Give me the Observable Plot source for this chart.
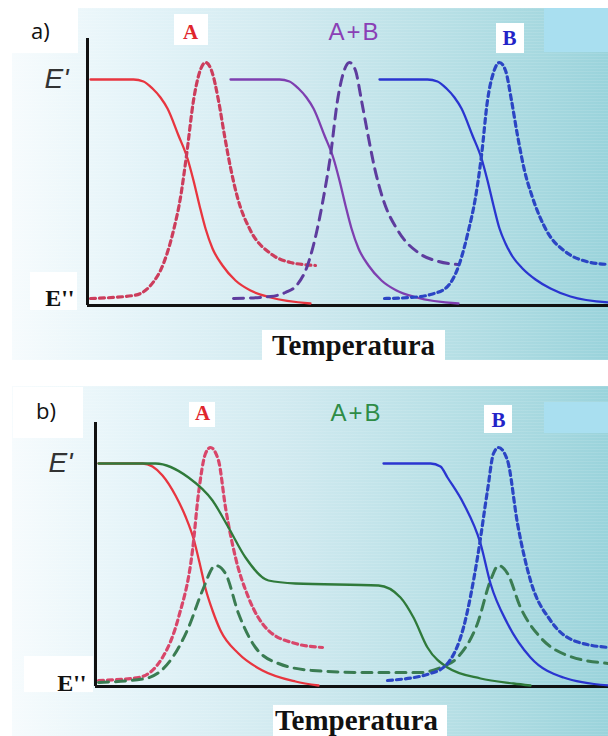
<!DOCTYPE html>
<html><head><meta charset="utf-8">
<script src="https://cdn.jsdelivr.net/npm/d3@7"></script>
<script src="https://cdn.jsdelivr.net/npm/@observablehq/plot@0.6"></script>
<style>
html,body{margin:0;padding:0;background:#fff;}
#page{position:relative;width:608px;height:736px;overflow:hidden;background:#fff;}
.bg{position:absolute;left:12px;width:596px;
  background:
   repeating-linear-gradient(180deg, rgba(255,255,255,0.10) 0px, rgba(255,255,255,0.10) 1px, rgba(255,255,255,0) 1px, rgba(255,255,255,0) 3px),
   linear-gradient(90deg,#f6fbfd 0%,#e3f3f8 22%,#cfe9ef 48%,#b6dfe5 74%,#9ad3db 100%);}
.hi{position:absolute;background:#a9dff0;}
.box{position:absolute;background:#fff;}
.tag{position:absolute;font-family:"Open Sans",sans-serif;font-size:22px;color:#111;line-height:1;}
</style></head>
<body><div id="page">
  <div class="bg" style="top:8px;height:352px"></div>
  <div class="bg" style="top:386px;height:350px"></div>
  <div class="hi" style="left:544px;top:8px;width:64px;height:44px"></div>
  <div class="hi" style="left:544px;top:402px;width:64px;height:31px"></div>
  <div class="box" style="left:10px;top:8px;width:68px;height:45px"></div>
  <div class="box" style="left:30px;top:272px;width:47px;height:38px"></div>
  <div class="box" style="left:174px;top:14px;width:34px;height:31px"></div>
  <div class="box" style="left:496px;top:23px;width:28px;height:30px"></div>
  <div class="box" style="left:262px;top:330px;width:183px;height:30px"></div>
  <div class="box" style="left:13px;top:387px;width:70px;height:51px"></div>
  <div class="box" style="left:24px;top:656px;width:69px;height:36px"></div>
  <div class="box" style="left:189px;top:402px;width:26px;height:25px"></div>
  <div class="box" style="left:484px;top:405px;width:28px;height:28px"></div>
  <div class="box" style="left:273px;top:705px;width:174px;height:31px"></div>
  <div class="tag" style="left:31px;top:19px">a)</div>
  <div class="tag" style="left:36px;top:399px">b)</div>
</div>
<script>
// ---- data: [temperature (arbitrary units), modulus (arbitrary units)] ----
// Panel a)
const redEpA = [[0.6,90.4],[9.2,90.4],[11.2,89.6],[13.0,86.8],[14.6,83.2],[16.0,78.8],[18.2,68.0],[20.0,58.8],[21.2,50.0],[22.4,40.0],[23.6,30.8],[25.0,22.8],[27.0,16.0],[29.6,10.0],[32.6,6.0],[36.6,3.2],[44.6,0.8]];
const redEppA = [[0.6,2.8],[9.2,4.0],[12.6,8.0],[15.2,16.8],[17.2,30.0],[18.6,43.2],[19.8,60.0],[21.2,82.0],[22.4,93.2],[23.6,97.2],[24.8,94.0],[26.2,82.0],[27.4,68.0],[28.6,55.2],[30.0,43.2],[32.6,30.0],[36.6,20.8],[40.6,17.2],[45.6,16.0]];
const purpleEpA = [[28.6,90.4],[38.4,90.4],[40.4,89.6],[42.2,86.8],[43.8,83.2],[45.2,78.8],[47.4,68.0],[49.2,58.8],[50.4,50.0],[51.6,40.0],[52.8,30.8],[54.2,22.8],[56.2,16.0],[58.8,10.0],[61.8,6.0],[65.8,3.2],[74.2,0.8]];
const purpleEppA = [[29.2,2.8],[36.6,3.6],[39.6,5.2],[41.8,8.0],[44.0,16.0],[45.8,29.2],[47.2,43.2],[48.6,60.0],[50.0,82.0],[51.2,93.2],[52.4,97.2],[53.6,94.0],[54.8,82.0],[56.0,69.2],[57.4,55.2],[59.0,43.2],[62.2,29.6],[66.4,20.8],[70.2,17.6],[74.0,16.4]];
const blueEpA = [[58.4,90.4],[68.0,90.4],[70.0,89.6],[71.8,86.8],[73.4,83.2],[74.8,78.8],[77.0,68.0],[78.8,58.8],[80.0,50.0],[81.2,40.0],[82.4,30.8],[83.6,24.8],[85.0,19.6],[87.0,14.8],[89.6,10.4],[92.6,6.8],[96.6,3.6],[104.2,1.2]];
const blueEppA = [[59.4,2.8],[64.6,3.2],[68.6,4.4],[71.8,7.2],[74.4,16.8],[76.2,30.0],[77.6,43.2],[78.8,60.0],[80.0,82.0],[81.2,93.2],[82.4,97.2],[83.6,94.0],[84.8,82.0],[86.0,68.0],[87.4,54.0],[89.0,43.2],[91.8,30.0],[95.8,21.2],[99.8,17.6],[104.2,16.4]];
// Panel b)
const redEpB = [[0.6,89.2],[9.4,89.2],[11.4,88.0],[13.4,84.4],[16.0,76.4],[18.0,68.0],[19.6,59.2],[20.8,49.6],[22.0,39.2],[23.4,30.4],[25.0,22.4],[28.6,13.2],[33.4,6.4],[40.0,2.0],[44.6,0.4]];
const redEppB = [[0.6,2.4],[8.6,3.6],[13.4,11.6],[16.6,27.6],[19.4,54.4],[20.6,77.2],[22.0,93.2],[23.0,95.6],[24.6,90.4],[26.0,71.6],[28.0,51.6],[30.6,35.6],[34.6,22.4],[40.0,17.2],[45.4,15.6]];
const greenEpB = [[0.6,89.2],[12.0,89.2],[18.6,83.6],[23.4,74.4],[26.6,63.6],[30.0,51.6],[34.6,42.4],[40.0,41.2],[56.6,40.4],[61.0,35.6],[63.6,27.6],[66.4,15.6],[70.4,7.6],[77.0,3.2],[83.6,1.2],[87.0,0.4]];
const greenEppB = [[0.6,1.6],[10.0,3.2],[15.4,11.6],[18.6,23.6],[21.4,38.4],[24.0,48.4],[26.0,45.2],[28.6,29.2],[32.0,15.6],[36.6,9.2],[43.4,6.4],[53.4,5.6],[65.0,5.6],[69.0,7.6],[72.4,11.6],[76.4,25.2],[79.0,42.4],[80.6,48.4],[82.4,45.2],[85.0,31.6],[89.0,19.6],[94.4,12.4],[102.6,9.2]];
const blueEpB = [[57.6,89.2],[67.0,89.2],[69.0,88.0],[70.4,83.6],[73.6,73.2],[77.0,57.2],[79.0,41.2],[82.4,25.2],[87.0,11.6],[93.6,3.6],[102.6,0.4]];
const blueEppB = [[58.4,2.4],[67.0,5.2],[70.4,9.2],[73.6,23.6],[76.4,51.6],[78.4,78.4],[79.6,93.2],[80.6,95.6],[82.4,90.4],[84.4,65.2],[87.0,42.4],[91.0,26.4],[95.6,18.4],[102.6,15.6]];

// label texts and their positions (data units)
const labelsA = [{t:"A", x:20.6, y:109.2}, {t:"A+B", x:53.4, y:109.2}, {t:"B", x:84.4, y:106.8}];
const labelsB = [{t:"A", x:21.4, y:109.2}, {t:"A+B", x:52.2, y:109.2}, {t:"B", x:80.6, y:106.4}];
const axisTitle = "Temperatura";

function panel(o) {
  const line = (data, stroke, w, dash) => Plot.line(data, {x: d => d[0], y: d => d[1], stroke, strokeWidth: w, strokeDasharray: dash, curve: "monotone-x"});
  const serifBold = {fontFamily: "Liberation Serif, serif", fontWeight: "bold"};
  const plot = Plot.plot({
    width: 608, height: o.height,
    marginLeft: o.ml, marginRight: 0, marginTop: o.mt, marginBottom: o.mb,
    style: {background: "transparent", overflow: "visible"},
    x: {domain: o.xd, axis: null},
    y: {domain: o.yd, axis: null},
    marks: [
      Plot.ruleX([0], {stroke: "#111", strokeWidth: 3}),
      Plot.ruleY([0], {stroke: "#111", strokeWidth: 3}),
      ...o.series.map(s => line(s.data, s.stroke, s.w, s.dash)),
      Plot.text(["E'"], {x: 0, y: o.epY, dx: o.epDx, textAnchor: "end", fontFamily: "Liberation Sans, Arial, sans-serif", fontStyle: "italic", fontSize: 28, fill: "#333"}),
      Plot.text(["E''"], {x: 0, y: o.eppY, dx: o.eppDx, textAnchor: "end", ...serifBold, fontSize: 24, fill: "#111"}),
      Plot.text([o.labels[0]], {x: "x", y: "y", text: "t", ...serifBold, fontSize: 21, fill: "#e0262c"}),
      Plot.text([o.labels[1]], {x: "x", y: "y", text: "t", fontFamily: "Liberation Sans, Arial, sans-serif", fontSize: 24, fill: o.abColor}),
      Plot.text([o.labels[2]], {x: "x", y: "y", text: "t", ...serifBold, fontSize: 21, fill: "#2323c8"}),
      Plot.text([axisTitle], {x: o.tX, y: 0, dy: o.tDy, ...serifBold, fontSize: 29, fill: "#111"})
    ]
  });
  plot.style.position = "absolute";
  plot.style.left = "0px";
  plot.style.top = o.top + "px";
  d3.select(plot).selectAll("text").filter(function () { return this.textContent === "A+B"; }).style("letter-spacing", "2px");
  return plot;
}

const page = document.getElementById("page");
page.appendChild(panel({
  top: 0, height: 370, ml: 87, mt: 38, mb: 65, xd: [0, 104.2], yd: [0, 106.8],
  epY: 90.4, epDx: -19, eppY: 2.8, eppDx: -13, labels: labelsA, abColor: "#8a3fb6", tX: 53.2, tDy: 40,
  series: [
    {data: redEpA, stroke: "#e8353f", w: 2.3},
    {data: redEppA, stroke: "#cc3d5c", w: 3.2, dash: "5,4"},
    {data: purpleEpA, stroke: "#7e3fb0", w: 2.3},
    {data: purpleEppA, stroke: "#5e3c9e", w: 3, dash: "10,7"},
    {data: blueEpA, stroke: "#2a35d0", w: 2.3},
    {data: blueEppA, stroke: "#2b45c4", w: 3.2, dash: "5,4"}
  ]
}));
page.appendChild(panel({
  top: 370, height: 366, ml: 95, mt: 52, mb: 50, xd: [0, 102.6], yd: [0, 105.6],
  epY: 89.2, epDx: -23, eppY: 1.2, eppDx: -9, labels: labelsB, abColor: "#2e8c46", tX: 52.2, tDy: 34,
  series: [
    {data: redEpB, stroke: "#e8353f", w: 2.3},
    {data: redEppB, stroke: "#d8466a", w: 3.2, dash: "5,4"},
    {data: greenEpB, stroke: "#2f7a3a", w: 2.3},
    {data: greenEppB, stroke: "#3a7c52", w: 3, dash: "10,7"},
    {data: blueEpB, stroke: "#2a35d0", w: 2.3},
    {data: blueEppB, stroke: "#2b45c4", w: 3.2, dash: "5,4"}
  ]
}));
</script>
</body></html>
